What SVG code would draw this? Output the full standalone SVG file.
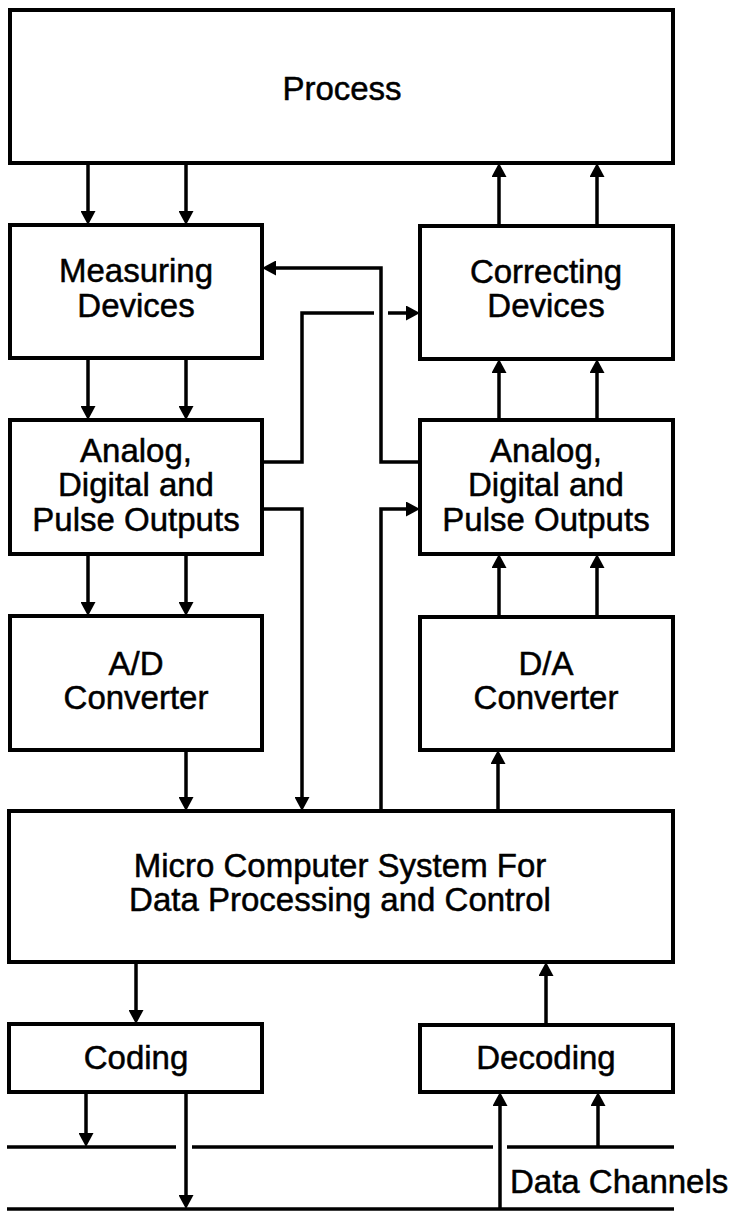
<svg xmlns="http://www.w3.org/2000/svg" width="733" height="1217" viewBox="0 0 733 1217">
<style>
.box{fill:#fff;stroke:#000;stroke-width:4}
.lbl{font-family:"Liberation Sans",Arial,Helvetica,sans-serif;font-size:33px;fill:#000;stroke:#000;stroke-width:0.5;text-anchor:middle}
.ln{fill:none;stroke:#000;stroke-width:3.5}
.arr{fill:none;stroke:#000;stroke-width:3.5;marker-end:url(#ah)}
</style>
<defs>
<marker id="ah" markerUnits="userSpaceOnUse" markerWidth="15" markerHeight="15" refX="10" refY="7.5" orient="auto">
<path d="M0,0 L14,7.5 L0,15 z" fill="#000"/>
</marker>
</defs>
<rect width="733" height="1217" fill="#fff"/>
<g id="connectors">
<path class="arr" d="M88,163 V221"/>
<path class="arr" d="M186,163 V221"/>
<path class="arr" d="M499,226 V167"/>
<path class="arr" d="M597,226 V167"/>
<path class="arr" d="M88,358 V416"/>
<path class="arr" d="M186,358 V416"/>
<path class="arr" d="M499,420 V363"/>
<path class="arr" d="M597,420 V363"/>
<path class="arr" d="M88,554 V612"/>
<path class="arr" d="M186,554 V612"/>
<path class="arr" d="M499,617 V558"/>
<path class="arr" d="M597,617 V558"/>
<path class="arr" d="M186,750 V807"/>
<path class="arr" d="M498,811 V754"/>
<path class="arr" d="M136,962 V1020"/>
<path class="arr" d="M546,1025 V966"/>
<path class="ln" d="M262,462 H302 V313 H374"/>
<path class="arr" d="M388,313 H416"/>
<path class="arr" d="M420,462 H381 V268 H266"/>
<path class="arr" d="M262,509 H302 V807"/>
<path class="arr" d="M381,811 V509 H416"/>
<path class="ln" d="M7,1147 H176 M192,1147 H493 M507,1147 H674"/>
<path class="ln" d="M7,1209 H674"/>
<path class="arr" d="M86,1092 V1143"/>
<path class="arr" d="M186,1092 V1205"/>
<path class="arr" d="M500,1209 V1096"/>
<path class="arr" d="M598,1147 V1096"/>
</g>
<g id="process"><rect class="box" x="10" y="10" width="663" height="153"/><text class="lbl" x="342" y="100">Process</text></g>
<g id="measuring"><rect class="box" x="10" y="225" width="252" height="133"/><text class="lbl" x="136" y="282">Measuring</text><text class="lbl" x="136" y="317">Devices</text></g>
<g id="correcting"><rect class="box" x="420" y="226" width="253" height="133"/><text class="lbl" x="546" y="283">Correcting</text><text class="lbl" x="546" y="317">Devices</text></g>
<g id="outputs-left"><rect class="box" x="10" y="420" width="252" height="134"/><text class="lbl" x="136" y="462">Analog,</text><text class="lbl" x="136" y="496">Digital and</text><text class="lbl" x="136" y="531">Pulse Outputs</text></g>
<g id="outputs-right"><rect class="box" x="420" y="420" width="253" height="134"/><text class="lbl" x="546" y="462">Analog,</text><text class="lbl" x="546" y="496">Digital and</text><text class="lbl" x="546" y="531">Pulse Outputs</text></g>
<g id="ad"><rect class="box" x="10" y="616" width="252" height="134"/><text class="lbl" x="136" y="675">A/D</text><text class="lbl" x="136" y="709">Converter</text></g>
<g id="da"><rect class="box" x="420" y="617" width="253" height="133"/><text class="lbl" x="546" y="675">D/A</text><text class="lbl" x="546" y="709">Converter</text></g>
<g id="micro"><rect class="box" x="9" y="811" width="664" height="151"/><text class="lbl" x="340" y="877">Micro Computer System For</text><text class="lbl" x="340" y="911">Data Processing and Control</text></g>
<g id="coding"><rect class="box" x="9" y="1024" width="253" height="68"/><text class="lbl" x="136" y="1069">Coding</text></g>
<g id="decoding"><rect class="box" x="420" y="1025" width="253" height="67"/><text class="lbl" x="546" y="1069">Decoding</text></g>
<g id="channels"><text class="lbl" x="510" y="1193" style="text-anchor:start">Data Channels</text></g>
</svg>
